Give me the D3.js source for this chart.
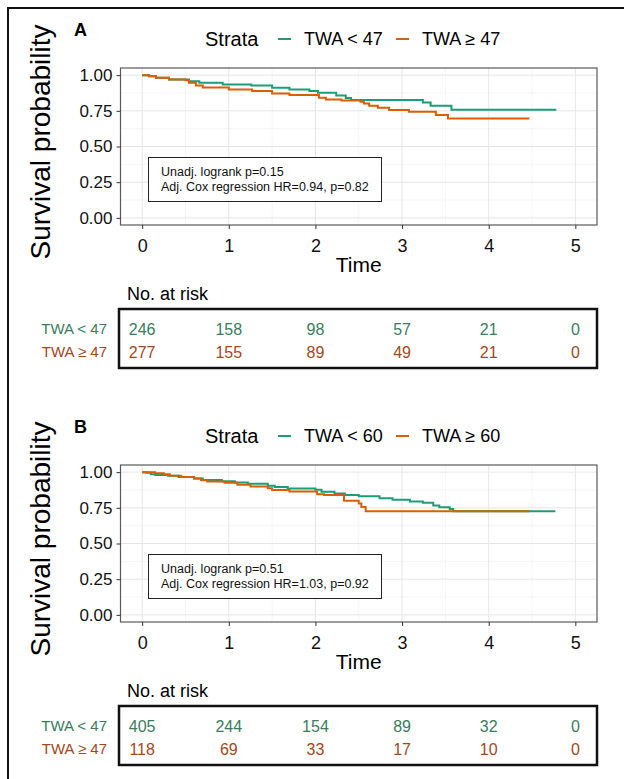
<!DOCTYPE html>
<html lang="en">
<head>
<meta charset="UTF-8">
<title>Survival by TWA</title>
<script src="https://d3js.org/d3.v7.min.js"></script>
<style>
  body { margin: 0; background: #fff; }
  svg text { font-family: "Liberation Sans", Arial, sans-serif; }
</style>
</head>
<body>
<svg id="chart" width="624" height="779"></svg>
<script>
// ---- data ----
const timeTicks = [0, 1, 2, 3, 4, 5];
const survTicks = [0, 0.25, 0.5, 0.75, 1];

const strataA = ["TWA < 47", "TWA \u2265 47"];
const strataB = ["TWA < 60", "TWA \u2265 60"];
const riskRowLabels = ["TWA < 47", "TWA \u2265 47"];

// Kaplan-Meier steps: [time, survival]
const kmA_low = [[0,1.0],[0.08,0.993],[0.16,0.981],[0.31,0.970],[0.54,0.958],[0.66,0.946],[0.93,0.935],[1.26,0.928],[1.5,0.911],[1.7,0.900],[1.93,0.888],[2.03,0.876],[2.24,0.858],[2.35,0.840],[2.41,0.825],[3.24,0.808],[3.33,0.785],[3.57,0.757],[4.78,0.757]];
const kmA_high = [[0,1.0],[0.08,0.993],[0.16,0.981],[0.31,0.970],[0.5,0.965],[0.54,0.946],[0.62,0.928],[0.7,0.914],[1.0,0.900],[1.27,0.888],[1.5,0.872],[1.7,0.860],[2.04,0.842],[2.12,0.829],[2.3,0.822],[2.52,0.813],[2.56,0.801],[2.62,0.785],[2.72,0.771],[2.85,0.755],[3.08,0.743],[3.39,0.720],[3.53,0.696],[4.47,0.696]];
const kmB_low = [[0,1.0],[0.05,0.995],[0.1,0.985],[0.15,0.98],[0.3,0.974],[0.42,0.966],[0.6,0.955],[0.7,0.945],[0.92,0.937],[1.07,0.928],[1.22,0.918],[1.45,0.905],[1.53,0.895],[1.68,0.885],[2.0,0.876],[2.07,0.862],[2.22,0.850],[2.34,0.840],[2.5,0.831],[2.74,0.817],[2.89,0.806],[3.09,0.794],[3.24,0.785],[3.36,0.766],[3.43,0.754],[3.55,0.742],[3.59,0.726],[4.77,0.726]];
const kmB_high = [[0,1.0],[0.15,0.993],[0.25,0.985],[0.32,0.975],[0.45,0.966],[0.6,0.955],[0.68,0.944],[0.75,0.935],[0.95,0.925],[1.1,0.912],[1.25,0.900],[1.45,0.887],[1.5,0.875],[1.7,0.864],[2.02,0.845],[2.1,0.840],[2.33,0.80],[2.5,0.78],[2.53,0.755],[2.58,0.726],[4.47,0.726]];

const statsA = ["Unadj. logrank p=0.15", "Adj. Cox regression HR=0.94, p=0.82"];
const statsB = ["Unadj. logrank p=0.51", "Adj. Cox regression HR=1.03, p=0.92"];

const riskA_low = [246, 158, 98, 57, 21, 0];
const riskA_high = [277, 155, 89, 49, 21, 0];
const riskB_low = [405, 244, 154, 89, 32, 0];
const riskB_high = [118, 69, 33, 17, 10, 0];

// ---- drawing ----
const W = 624, H = 779;
const green = "#1b9e77", orange = "#d95f02";
const greenText = "#3a7c60", orangeText = "#a2481c";

const svg = d3.select("#chart");

// outer frame (cropped on the right / bottom)
svg.append("path")
    .attr("d", `M8,${H} V8 H${W}`)
    .attr("fill", "none")
    .attr("stroke", "#111")
    .attr("stroke-width", 2);

const x = d3.scaleLinear().domain([-0.25, 5.25]).range([120.5, 597]);

function panel(oy, letter, strata, curves, stats, riskRows) {
  const y = d3.scaleLinear().domain([-0.05, 1.05]).range([225 + oy, 68 + oy]);
  const g = svg.append("g");

  // minor grid
  const xMinor = d3.range(0.5, 5, 1), yMinor = d3.range(0.125, 1, 0.25);
  g.selectAll(".xmin").data(xMinor).join("line")
      .attr("x1", d => x(d)).attr("x2", d => x(d))
      .attr("y1", y.range()[0]).attr("y2", y.range()[1])
      .attr("stroke", "#f2f2f2").attr("stroke-width", 0.8);
  g.selectAll(".ymin").data(yMinor).join("line")
      .attr("y1", d => y(d)).attr("y2", d => y(d))
      .attr("x1", x.range()[0]).attr("x2", x.range()[1])
      .attr("stroke", "#f2f2f2").attr("stroke-width", 0.8);
  // major grid
  g.selectAll(".xmaj").data(timeTicks).join("line")
      .attr("x1", d => x(d)).attr("x2", d => x(d))
      .attr("y1", y.range()[0]).attr("y2", y.range()[1])
      .attr("stroke", "#e6e6e6").attr("stroke-width", 1);
  g.selectAll(".ymaj").data(survTicks).join("line")
      .attr("y1", d => y(d)).attr("y2", d => y(d))
      .attr("x1", x.range()[0]).attr("x2", x.range()[1])
      .attr("stroke", "#e6e6e6").attr("stroke-width", 1);

  // curves
  const line = d3.line()
      .x(d => x(d[0])).y(d => y(d[1]))
      .curve(d3.curveStepAfter);
  curves.forEach((c, i) => {
    g.append("path")
        .attr("d", line(c))
        .attr("fill", "none")
        .attr("stroke", i === 0 ? green : orange)
        .attr("stroke-width", 2);
  });

  // panel border
  g.append("rect")
      .attr("x", x.range()[0]).attr("y", y.range()[1])
      .attr("width", x.range()[1] - x.range()[0])
      .attr("height", y.range()[0] - y.range()[1])
      .attr("fill", "none").attr("stroke", "#5a5a5a").attr("stroke-width", 1.2);

  // axes
  const yAxis = g.append("g")
      .attr("transform", `translate(${x.range()[0]},0)`)
      .call(d3.axisLeft(y).tickValues(survTicks).tickFormat(d3.format(".2f")).tickSize(4).tickPadding(4));
  const xAxis = g.append("g")
      .attr("transform", `translate(0,${y.range()[0]})`)
      .call(d3.axisBottom(x).tickValues(timeTicks).tickFormat(d3.format("d")).tickSize(4).tickPadding(10));
  [xAxis, yAxis].forEach(a => {
    a.select(".domain").remove();
    a.selectAll(".tick line").attr("stroke", "#333");
    a.selectAll("text").attr("fill", "#111").style("font-size", "17px");
  });
  xAxis.selectAll("text").style("font-size", "18px");

  // axis titles
  g.append("text")
      .attr("x", (x.range()[0] + x.range()[1]) / 2).attr("y", 272 + oy)
      .attr("text-anchor", "middle").style("font-size", "21px")
      .text("Time");
  g.append("text")
      .attr("transform", `translate(50,${142 + oy}) rotate(-90)`)
      .attr("text-anchor", "middle").style("font-size", "28px")
      .text("Survival probability");

  // panel letter
  g.append("text")
      .attr("x", 74).attr("y", 36 + oy)
      .style("font-size", "18px").style("font-weight", "bold")
      .text(letter);

  // legend
  const lg = g.append("g").attr("transform", `translate(0,${39 + oy})`);
  lg.append("text").attr("x", 205).attr("dy", "0.36em").style("font-size", "20px").text("Strata");
  const legX = [278, 396];
  strata.forEach((s, i) => {
    lg.append("line")
        .attr("x1", legX[i]).attr("x2", legX[i] + 13)
        .attr("stroke", i === 0 ? green : orange).attr("stroke-width", 2);
    lg.append("text").attr("x", legX[i] + 26).attr("dy", "0.36em")
        .style("font-size", "18px").text(s);
  });

  // stats box
  g.append("rect")
      .attr("x", 148.5).attr("y", 157.5 + oy)
      .attr("width", 233).attr("height", 44)
      .attr("fill", "#fff").attr("stroke", "#222").attr("stroke-width", 1);
  stats.forEach((s, i) => {
    g.append("text")
        .attr("x", 161).attr("y", 172 + i * 15 + oy).attr("dy", "0.35em")
        .style("font-size", "12.5px").attr("fill", "#111")
        .text(s);
  });

  // risk table
  g.append("text")
      .attr("x", 127).attr("y", 294 + oy).attr("dy", "0.36em")
      .style("font-size", "18px").text("No. at risk");
  g.append("rect")
      .attr("x", 119).attr("y", 309 + oy)
      .attr("width", 478).attr("height", 59)
      .attr("fill", "none").attr("stroke", "#111").attr("stroke-width", 2.5);
  const rowY = [329, 352];
  riskRows.forEach((row, r) => {
    const col = r === 0 ? greenText : orangeText;
    g.append("text")
        .attr("x", 107).attr("y", rowY[r] + oy).attr("dy", "0.36em")
        .attr("text-anchor", "end").attr("fill", col)
        .style("font-size", "15px").text(riskRowLabels[r]);
    g.selectAll(null).data(row).join("text")
        .attr("x", (d, i) => x(timeTicks[i]))
        .attr("y", rowY[r] + oy).attr("dy", "0.36em")
        .attr("text-anchor", "middle").attr("fill", col)
        .style("font-size", "16px")
        .text(d => d);
  });
}

panel(0, "A", strataA, [kmA_low, kmA_high], statsA, [riskA_low, riskA_high]);
panel(397, "B", strataB, [kmB_low, kmB_high], statsB, [riskB_low, riskB_high]);
</script>
</body>
</html>
